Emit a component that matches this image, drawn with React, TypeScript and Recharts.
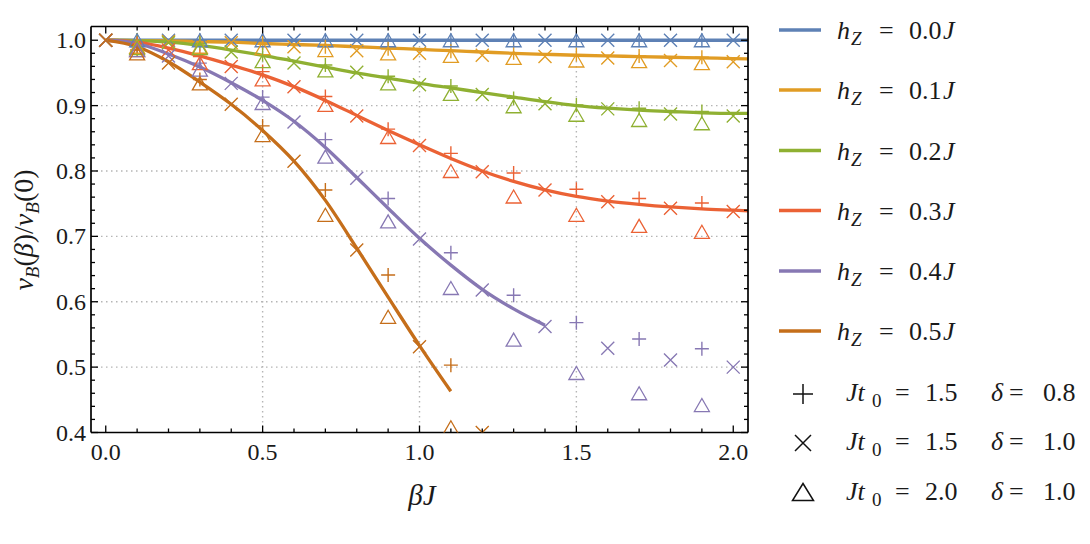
import { ComposedChart, Line, Scatter, XAxis, YAxis, ReferenceLine } from 'recharts';

const COLORS = ['#5E81B5', '#E19C24', '#8FB032', '#EB6235', '#8778B3', '#C56E1A'];
const FIELD_LABELS = ['0.0', '0.1', '0.2', '0.3', '0.4', '0.5'];
const FONT = "'Liberation Serif', 'DejaVu Serif', serif";
const serif = { fontFamily: FONT, whiteSpace: 'pre' as const };

// theory curves, sampled in βJ
const lineBeta = [0, 0.1, 0.2, 0.3, 0.4, 0.5, 0.6, 0.7, 0.8, 0.9, 1.0, 1.1, 1.2, 1.3, 1.4, 1.5, 1.6, 1.7, 1.8, 1.9, 2.0, 2.05];
const curveH00 = [1, 1, 1, 1, 1, 1, 1, 1, 1, 1, 1, 1, 1, 1, 1, 1, 1, 1, 1, 1, 1, 1];
const curveH01 = [1.0, 0.9995, 0.999, 0.998, 0.997, 0.995, 0.9935, 0.992, 0.99, 0.988, 0.986, 0.984, 0.982, 0.98, 0.9785, 0.977, 0.976, 0.975, 0.974, 0.973, 0.972, 0.9715];
const curveH02 = [1.0, 0.9995, 0.997, 0.992, 0.985, 0.977, 0.968, 0.959, 0.95, 0.942, 0.934, 0.927, 0.92, 0.913, 0.906, 0.9, 0.896, 0.893, 0.891, 0.889, 0.888, 0.888];
const curveH03 = [1.0, 0.997, 0.988, 0.976, 0.962, 0.947, 0.929, 0.908, 0.885, 0.862, 0.84, 0.819, 0.8, 0.784, 0.771, 0.761, 0.754, 0.749, 0.745, 0.742, 0.74, 0.739];
const curveH04 = [1.0, 0.995, 0.979, 0.959, 0.935, 0.908, 0.876, 0.836, 0.79, 0.743, 0.697, 0.656, 0.619, 0.589, 0.564];
const curveH05 = [1.0, 0.99, 0.967, 0.936, 0.902, 0.862, 0.815, 0.755, 0.682, 0.607, 0.533, 0.463];

// simulation points
const evenBeta = [0, 0.2, 0.4, 0.6, 0.8, 1.0, 1.2, 1.4, 1.6, 1.8, 2.0];
const oddBeta = [0.1, 0.3, 0.5, 0.7, 0.9, 1.1, 1.3, 1.5, 1.7, 1.9];

// + : Jt0 = 1.5, delta = 0.8
const plusH00 = [1, 1, 1, 1, 1, 1, 1, 1, 1, 1];
const plusH01 = [1.0, 0.998, 0.996, 0.99, 0.987, 0.983, 0.981, 0.978, 0.976, 0.974];
const plusH02 = [1.0, 0.995, 0.978, 0.962, 0.945, 0.93, 0.911, 0.901, 0.896, 0.891];
const plusH03 = [0.995, 0.975, 0.952, 0.914, 0.864, 0.827, 0.797, 0.772, 0.758, 0.751];
const plusH04 = [0.99, 0.965, 0.913, 0.848, 0.758, 0.675, 0.61, 0.568, 0.543, 0.528];
const plusH05 = [0.985, 0.94, 0.869, 0.771, 0.641, 0.503, 0.39];

// x : Jt0 = 1.5, delta = 1.0
const crossH00 = [1, 1, 1, 1, 1, 1, 1, 1, 1, 1, 1];
const crossH01 = [1.0, 0.998, 0.996, 0.99, 0.984, 0.98, 0.977, 0.975, 0.973, 0.969, 0.967];
const crossH02 = [1.0, 0.996, 0.982, 0.965, 0.951, 0.932, 0.917, 0.903, 0.895, 0.887, 0.884];
const crossH03 = [1.0, 0.985, 0.96, 0.929, 0.884, 0.839, 0.799, 0.771, 0.753, 0.743, 0.738];
const crossH04 = [1.0, 0.976, 0.934, 0.875, 0.789, 0.696, 0.618, 0.562, 0.529, 0.511, 0.5];
const crossH05 = [1.0, 0.965, 0.902, 0.815, 0.679, 0.531, 0.4];

// triangle : Jt0 = 2.0, delta = 1.0
const triH00 = [1, 1, 1, 1, 1, 1, 1, 1, 1, 1];
const triH01 = [0.99, 0.99, 0.988, 0.985, 0.98, 0.976, 0.973, 0.969, 0.968, 0.965];
const triH02 = [0.988, 0.988, 0.968, 0.954, 0.934, 0.918, 0.899, 0.886, 0.878, 0.873];
const triH03 = [0.985, 0.965, 0.94, 0.901, 0.852, 0.8, 0.761, 0.733, 0.716, 0.707];
const triH04 = [0.985, 0.955, 0.904, 0.822, 0.723, 0.621, 0.542, 0.491, 0.46, 0.442];
const triH05 = [0.98, 0.934, 0.855, 0.733, 0.577, 0.408];

// axes
const xTicks = [0, 0.1, 0.2, 0.3, 0.4, 0.5, 0.6, 0.7, 0.8, 0.9, 1.0, 1.1, 1.2, 1.3, 1.4, 1.5, 1.6, 1.7, 1.8, 1.9, 2.0];
const yTicks = [0.4, 0.42, 0.44, 0.46, 0.48, 0.5, 0.52, 0.54, 0.56, 0.58, 0.6, 0.62, 0.64, 0.66, 0.68, 0.7, 0.72, 0.74, 0.76, 0.78, 0.8, 0.82, 0.84, 0.86, 0.88, 0.9, 0.92, 0.94, 0.96, 0.98, 1.0];
const gridX = [0.5, 1.0, 1.5];
const gridY = [0.5, 0.6, 0.7, 0.8, 0.9];

const curves = [curveH00, curveH01, curveH02, curveH03, curveH04, curveH05];
const plusSets = [plusH00, plusH01, plusH02, plusH03, plusH04, plusH05];
const crossSets = [crossH00, crossH01, crossH02, crossH03, crossH04, crossH05];
const triSets = [triH00, triH01, triH02, triH03, triH04, triH05];

const lineRows = lineBeta.map((beta, i) => {
  const row: any = { beta };
  curves.forEach((c, k) => {
    if (i < c.length) row['h' + k] = c[i];
  });
  return row;
});

const toPoints = (xs: number[], ys: number[]) => ys.map((v, i) => ({ beta: xs[i], v }));

const isMajor = (v: number, step: number) => Math.abs(v / step - Math.round(v / step)) < 1e-6;

function FrameTick(props: any) {
  const { x, y, payload, side } = props;
  const v = payload.value;
  const horizontal = side === 'bottom' || side === 'top';
  const major = horizontal ? isMajor(v, 0.5) : isMajor(v, 0.1);
  const len = major ? 7 : 4;
  let d = '';
  if (side === 'bottom') d = `M${x},${y}V${y - len}`;
  if (side === 'top') d = `M${x},${y}V${y + len}`;
  if (side === 'left') d = `M${x},${y}H${x + len}`;
  if (side === 'right') d = `M${x},${y}H${x - len}`;
  return (
    <g>
      <path d={d} stroke="#000" strokeWidth={1.3} />
      {side === 'bottom' && major && (
        <text x={x} y={y + 27} textAnchor="middle" fontSize={24} style={serif} fill="#1a1a1a">
          {v.toFixed(1)}
        </text>
      )}
      {side === 'left' && major && (
        <text x={x - 5} y={y + 8} textAnchor="end" fontSize={24} style={serif} fill="#1a1a1a">
          {v.toFixed(1)}
        </text>
      )}
    </g>
  );
}

const PlusMark = ({ cx, cy, color, r = 7, w = 1.4 }: any) => (
  <path d={`M${cx - r},${cy}H${cx + r}M${cx},${cy - r}V${cy + r}`} stroke={color} strokeWidth={w} fill="none" />
);
const CrossMark = ({ cx, cy, color, r = 6.5, w = 1.4 }: any) => (
  <path d={`M${cx - r},${cy - r}L${cx + r},${cy + r}M${cx - r},${cy + r}L${cx + r},${cy - r}`} stroke={color} strokeWidth={w} fill="none" />
);
const TriMark = ({ cx, cy, color, hw = 7.5, hh = 6.5, w = 1.3 }: any) => (
  <path d={`M${cx},${cy - hh}L${cx + hw},${cy + hh}L${cx - hw},${cy + hh}Z`} stroke={color} strokeWidth={w} fill="none" />
);

const frameLine = { stroke: '#000', strokeWidth: 1.7 };
const gridStyle = { stroke: '#b5b5b5', strokeWidth: 1.4, strokeDasharray: '1.5 3.5' };

function Overlay() {
  const rowBase = [39, 99, 159.5, 219.5, 280, 340];
  const simRows = [
    { base: 401, t0: '1.5', delta: '0.8', mark: <PlusMark cx={803} cy={394} color="#111" r={10} w={1.5} /> },
    { base: 450, t0: '1.5', delta: '1.0', mark: <CrossMark cx={803} cy={443} color="#111" r={8} w={1.5} /> },
    { base: 500, t0: '2.0', delta: '1.0', mark: <TriMark cx={803} cy={492} color="#111" hw={10.5} hh={8.5} w={1.5} /> },
  ];
  return (
    <svg width={1090} height={544} style={{ position: 'absolute', left: 0, top: 0, pointerEvents: 'none' }} fill="#1a1a1a">
      <text transform="translate(33,230) rotate(-90)" textAnchor="middle" fontSize={28} style={serif}>
        <tspan fontStyle="italic">v</tspan>
        <tspan fontStyle="italic" fontSize={19} dy={6}>B</tspan>
        <tspan dy={-6}>(</tspan>
        <tspan fontStyle="italic">β</tspan>
        <tspan>)/</tspan>
        <tspan fontStyle="italic">v</tspan>
        <tspan fontStyle="italic" fontSize={19} dy={6}>B</tspan>
        <tspan dy={-6}>(0)</tspan>
      </text>
      <text x={422} y={505} textAnchor="middle" fontSize={29} fontStyle="italic" style={serif}>βJ</text>
      {FIELD_LABELS.map((lab, i) => (
        <g key={lab}>
          <line x1={779} x2={821} y1={rowBase[i] - 9} y2={rowBase[i] - 9} stroke={COLORS[i]} strokeWidth={3.3} />
          <text y={rowBase[i]} fontSize={26} style={serif}>
            <tspan x={837} fontStyle="italic">h</tspan>
            <tspan x={851} dy={6} fontSize={19} fontStyle="italic">Z</tspan>
            <tspan x={879} dy={-6}>=</tspan>
            <tspan x={909}>{lab}</tspan>
            <tspan x={943} fontStyle="italic">J</tspan>
          </text>
        </g>
      ))}
      {simRows.map((r) => (
        <g key={r.base}>
          {r.mark}
          <text y={r.base} fontSize={26} style={serif}>
            <tspan x={846} fontStyle="italic">Jt</tspan>
            <tspan x={872} dy={6} fontSize={19}>0</tspan>
            <tspan x={895} dy={-6}>=</tspan>
            <tspan x={925}>{r.t0}</tspan>
            <tspan x={991} fontStyle="italic">δ</tspan>
            <tspan x={1009}>=</tspan>
            <tspan x={1043}>{r.delta}</tspan>
          </text>
        </g>
      ))}
    </svg>
  );
}

export default function App() {
  return (
    <div style={{ position: 'absolute', left: 0, top: 0, width: 1090, height: 544, background: '#fff' }}>
      <ComposedChart width={1090} height={544} data={lineRows} margin={{ top: 25.5, right: 341, bottom: 110.5, left: 90 }}>
        {gridX.map((v) => (
          <ReferenceLine key={'gx' + v} xAxisId="x" yAxisId="y" x={v} {...gridStyle} />
        ))}
        {gridY.map((v) => (
          <ReferenceLine key={'gy' + v} xAxisId="x" yAxisId="y" y={v} {...gridStyle} />
        ))}
        <XAxis
          xAxisId="x"
          dataKey="beta"
          type="number"
          orientation="bottom"
          domain={[-0.047, 2.047]}
          allowDataOverflow
          ticks={xTicks}
          interval={0}
          height={1}
          tickSize={0}
          tickMargin={0}
          tickLine={false}
          axisLine={frameLine}
          tick={(p: any) => <FrameTick {...p} side="bottom" />}
        />
        <XAxis
          xAxisId="top"
          dataKey="beta"
          type="number"
          orientation="top"
          domain={[-0.047, 2.047]}
          allowDataOverflow
          ticks={xTicks}
          interval={0}
          height={1}
          tickSize={0}
          tickMargin={0}
          tickLine={false}
          axisLine={frameLine}
          tick={(p: any) => <FrameTick {...p} side="top" />}
        />
        <YAxis
          yAxisId="y"
          type="number"
          orientation="left"
          domain={[0.4, 1.021]}
          allowDataOverflow
          ticks={yTicks}
          interval={0}
          width={1}
          tickSize={0}
          tickMargin={0}
          tickLine={false}
          axisLine={frameLine}
          tick={(p: any) => <FrameTick {...p} side="left" />}
        />
        <YAxis
          yAxisId="right"
          type="number"
          orientation="right"
          domain={[0.4, 1.021]}
          allowDataOverflow
          ticks={yTicks}
          interval={0}
          width={1}
          tickSize={0}
          tickMargin={0}
          tickLine={false}
          axisLine={frameLine}
          tick={(p: any) => <FrameTick {...p} side="right" />}
        />
        {curves.map((_, k) => (
          <Line
            key={'line' + k}
            xAxisId="x"
            yAxisId="y"
            type="monotone"
            dataKey={'h' + k}
            stroke={COLORS[k]}
            strokeWidth={3.3}
            dot={false}
            activeDot={false}
            isAnimationActive={false}
          />
        ))}
        {COLORS.map((c, k) => (
          <Scatter
            key={'plus' + k}
            xAxisId="x"
            yAxisId="y"
            data={toPoints(oddBeta, plusSets[k])}
            dataKey="v"
            isAnimationActive={false}
            shape={(p: any) => <PlusMark cx={p.cx} cy={p.cy} color={c} />}
          />
        ))}
        {COLORS.map((c, k) => (
          <Scatter
            key={'cross' + k}
            xAxisId="x"
            yAxisId="y"
            data={toPoints(evenBeta, crossSets[k])}
            dataKey="v"
            isAnimationActive={false}
            shape={(p: any) => <CrossMark cx={p.cx} cy={p.cy} color={c} />}
          />
        ))}
        {COLORS.map((c, k) => (
          <Scatter
            key={'tri' + k}
            xAxisId="x"
            yAxisId="y"
            data={toPoints(oddBeta, triSets[k])}
            dataKey="v"
            isAnimationActive={false}
            shape={(p: any) => <TriMark cx={p.cx} cy={p.cy} color={c} />}
          />
        ))}
      </ComposedChart>
      <Overlay />
    </div>
  );
}
